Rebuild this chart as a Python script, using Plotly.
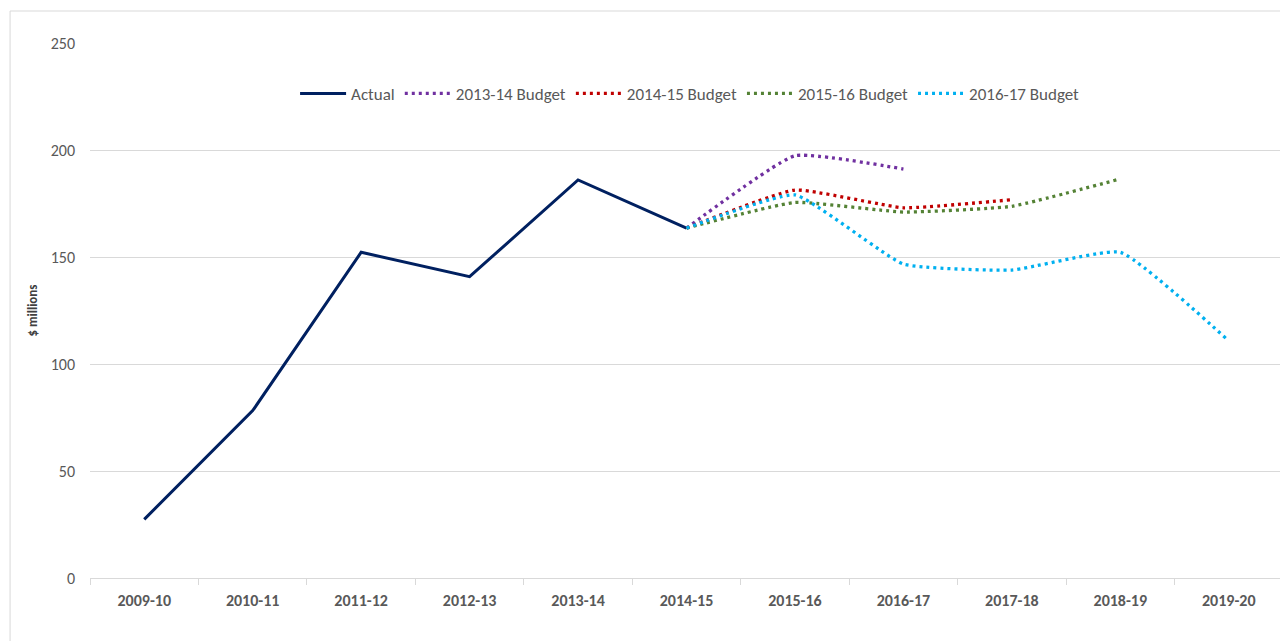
import plotly.graph_objects as go

years = ["2009-10", "2010-11", "2011-12", "2012-13", "2013-14", "2014-15",
         "2015-16", "2016-17", "2017-18", "2018-19", "2019-20"]

actual_x = years[:6]
actual = [27.4, 78.2, 152.2, 140.8, 186.0, 163.5]

b1314_x = ["2014-15", "2015-16", "2016-17"]
b1314 = [163.5, 197.3, 191.1]

b1415_x = ["2014-15", "2015-16", "2016-17", "2017-18"]
b1415 = [163.5, 181.3, 173.0, 176.8]

b1516_x = ["2014-15", "2015-16", "2016-17", "2017-18", "2018-19"]
b1516 = [163.5, 175.5, 171.0, 173.7, 186.5]

b1617_x = ["2014-15", "2015-16", "2016-17", "2017-18", "2018-19", "2019-20"]
b1617 = [163.5, 179.0, 146.7, 143.9, 152.2, 110.8]

FONT = "Calibri, Carlito, Lato, 'Noto Sans', sans-serif"
DOT = "3px,4px"

fig = go.Figure()
fig.add_trace(go.Scatter(x=actual_x, y=actual, name="Actual", mode="lines",
                         line=dict(color="#002060", width=3)))
budgets = [
    ("2013-14 Budget", b1314_x, b1314, "#7030A0"),
    ("2014-15 Budget", b1415_x, b1415, "#C00000"),
    ("2015-16 Budget", b1516_x, b1516, "#548235"),
    ("2016-17 Budget", b1617_x, b1617, "#00B0F0"),
]
for name, xs, ys, col in budgets:
    fig.add_trace(go.Scatter(x=xs, y=ys, name=name, mode="lines",
                             line=dict(color=col, width=3.3, dash=DOT,
                                       shape="spline", smoothing=0.4)))

# page body has an 8px margin: shrink figure and margins to keep plot area in place
fig.update_layout(
    width=1280, height=633,
    margin=dict(l=82, r=5, t=35, b=63),
    paper_bgcolor="white", plot_bgcolor="white",
    font=dict(family=FONT, size=16, color="#595959"),
    showlegend=True,
    legend=dict(orientation="h", x=0.503, xanchor="center", y=0.905, yanchor="middle",
                font=dict(size=17, color="#595959"), bgcolor="rgba(0,0,0,0)",
                itemwidth=46, tracegroupgap=0),
    xaxis=dict(type="category", categoryorder="array", categoryarray=years,
               range=[-0.5, 10.5], showgrid=False, showline=True,
               linecolor="#d9d9d9", linewidth=1, ticks="outside",
               tickson="boundaries", ticklen=6, tickcolor="#d9d9d9",
               ticklabelstandoff=8,
               tickfont=dict(family=FONT, size=16, color="#595959", weight="bold")),
    yaxis=dict(range=[0, 250], tickvals=[0, 50, 100, 150, 200, 250],
               showgrid=True, gridcolor="#d9d9d9", gridwidth=1,
               zeroline=False, showline=False, ticks="",
               tickfont=dict(family=FONT, size=16, color="#595959"),
               ticklabelstandoff=14,
               title=dict(text="$ millions", standoff=10,
                          font=dict(family=FONT, size=13, color="#404040", weight="bold"))),
)

# chart frame (left and top border)
fig.add_shape(type="line", xref="paper", yref="paper", x0=-0.067, x1=-0.067,
              y0=-0.2, y1=1.0598, line=dict(color="#d9d9d9", width=1))
fig.add_shape(type="line", xref="paper", yref="paper", x0=-0.067, x1=1.01,
              y0=1.0598, y1=1.0598, line=dict(color="#d9d9d9", width=1))

fig.write_html("out.html")
